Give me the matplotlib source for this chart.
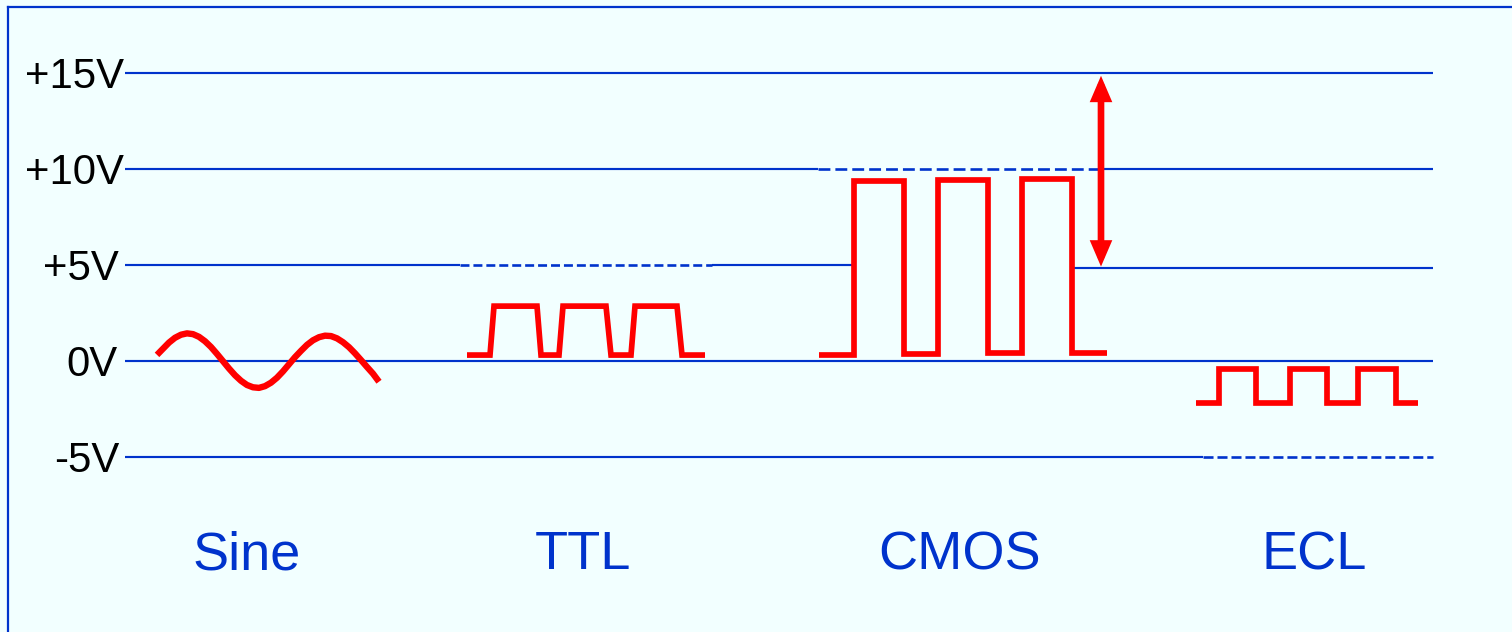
import matplotlib
matplotlib.use('Agg')
import matplotlib.pyplot as plt
from matplotlib.lines import Line2D
from matplotlib.patches import FancyArrowPatch, ArrowStyle

# ---------------- data ----------------
level_volts = [15, 10, 5, 0, -5]
level_labels = ['+15V', '+10V', '+5V', '0V', '-5V']

family_names = ['Sine', 'TTL', 'CMOS', 'ECL']

sine_t = [157, 163, 169, 175, 181, 187, 193, 199, 205, 211, 217, 223, 229,
          235, 241, 247, 253, 259, 265, 271, 277, 283, 289, 295, 301, 307,
          313, 319, 325, 331, 337, 343, 349, 355, 361, 367, 373, 379]
sine_v = [0.30, 0.62, 0.94, 1.19, 1.35, 1.42, 1.38, 1.24, 1.01, 0.71, 0.35,
          -0.03, -0.41, -0.76, -1.05, -1.27, -1.39, -1.42, -1.33, -1.15, -0.89,
          -0.56, -0.19, 0.18, 0.51, 0.82, 1.06, 1.22, 1.30, 1.28, 1.16, 0.96,
          0.70, 0.38, 0.03, -0.33, -0.68, -1.10]

ttl_t = [467, 490, 494, 537, 541, 559, 563, 606, 611, 631, 635, 677, 682, 705]
ttl_v = [0.29, 0.29, 2.84, 2.84, 0.29, 0.29, 2.84, 2.84, 0.29, 0.29, 2.84, 2.84, 0.29, 0.29]

cmos_t = [819, 854, 854, 904, 904, 938, 938, 988, 988, 1022, 1022, 1072, 1072, 1107]
cmos_v = [0.28, 0.28, 9.38, 9.38, 0.33, 0.33, 9.43, 9.43, 0.38, 0.38, 9.45, 9.45, 0.40, 0.40]

ecl_t = [1196, 1219, 1219, 1256, 1256, 1290, 1290, 1327, 1327, 1358, 1358, 1396, 1396, 1418]
ecl_v = [-2.21, -2.21, -0.44, -0.44, -2.21, -2.21, -0.44, -0.44, -2.21, -2.21, -0.44, -0.44, -2.21, -2.21]

cmos_swing = [15, 4.85]   # supply range arrow (V)

# ---------------- style / layout ----------------
BG = '#F2FFFF'
BLUE = '#0033CC'
RED = '#FF0000'
FONT = 'Liberation Sans'

fig = plt.figure(figsize=(15.12, 6.32), dpi=100)
fig.patch.set_facecolor(BG)
ax = fig.add_axes([0, 0, 1, 1])
ax.set_facecolor(BG)
ax.set_xlim(0, 1512)
ax.set_ylim(-14.14, 18.79)
ax.axis('off')

GLW = 1.55
DLW = 1.9
# level line segments: (level, x0, x1, dash pattern or None)
segments = [
    (level_volts[0], 125, 1433, None),
    (level_volts[1], 125, 818, None),
    (level_volts[1], 818, 1100, (4.5, 1.9)),
    (level_volts[1], 1100, 1433, None),
    (level_volts[2], 125, 460, None),
    (level_volts[2], 460, 712, (3.4, 1.5)),
    (level_volts[2], 712, 855, None),
    (level_volts[2] - 0.15, 1070, 1433, None),
    (level_volts[3], 125, 1433, None),
    (level_volts[4], 125, 1203, None),
    (level_volts[4], 1203, 1433, (3.8, 1.5)),
]
for lv, x0, x1, dsh in segments:
    if dsh is None:
        ax.plot([x0, x1], [lv, lv], color=BLUE, lw=GLW, zorder=1,
                solid_capstyle='butt')
    else:
        ax.plot([x0, x1], [lv, lv], color=BLUE, lw=DLW, zorder=1,
                linestyle=(0, dsh), dash_capstyle='butt')

# level labels
label_right = [124, 124, 119, 118, 119]
for lv, lab, xr in zip(level_volts, level_labels, label_right):
    ax.text(xr, lv - 0.78, lab, ha='right', va='baseline', fontsize=30.2,
            family=FONT, color='black')

# waveforms
ax.plot(sine_t, sine_v, color=RED, lw=4.6, zorder=3, solid_capstyle='butt',
        solid_joinstyle='round')
for t, v in [(ttl_t, ttl_v), (cmos_t, cmos_v), (ecl_t, ecl_v)]:
    ax.plot(t, v, color=RED, lw=4.1, zorder=3, solid_capstyle='butt',
            solid_joinstyle='miter')

# arrow
arr = FancyArrowPatch((1101, cmos_swing[0]), (1101, cmos_swing[1]),
                      arrowstyle=ArrowStyle('<|-|>', head_length=1.05, head_width=0.45),
                      mutation_scale=10, color=RED, lw=4.8, shrinkA=2.2, shrinkB=0.7,
                      zorder=4, joinstyle='miter', capstyle='butt')
ax.add_patch(arr)

# family names
name_x = [247, 583, 960, 1314]
for nm, xc in zip(family_names, name_x):
    ax.text(xc, -10.86, nm, ha='center', va='baseline', fontsize=39,
            family=FONT, color=BLUE)

# frame (left and top edges)
fig.add_artist(Line2D([7.5 / 1512, 7.5 / 1512], [0, 1 - 7 / 632],
                      transform=fig.transFigure, color=BLUE, lw=1.6))
fig.add_artist(Line2D([7.5 / 1512, 1], [1 - 7 / 632, 1 - 7 / 632],
                      transform=fig.transFigure, color=BLUE, lw=1.6))

fig.savefig('out.png', dpi=100, facecolor=BG)
